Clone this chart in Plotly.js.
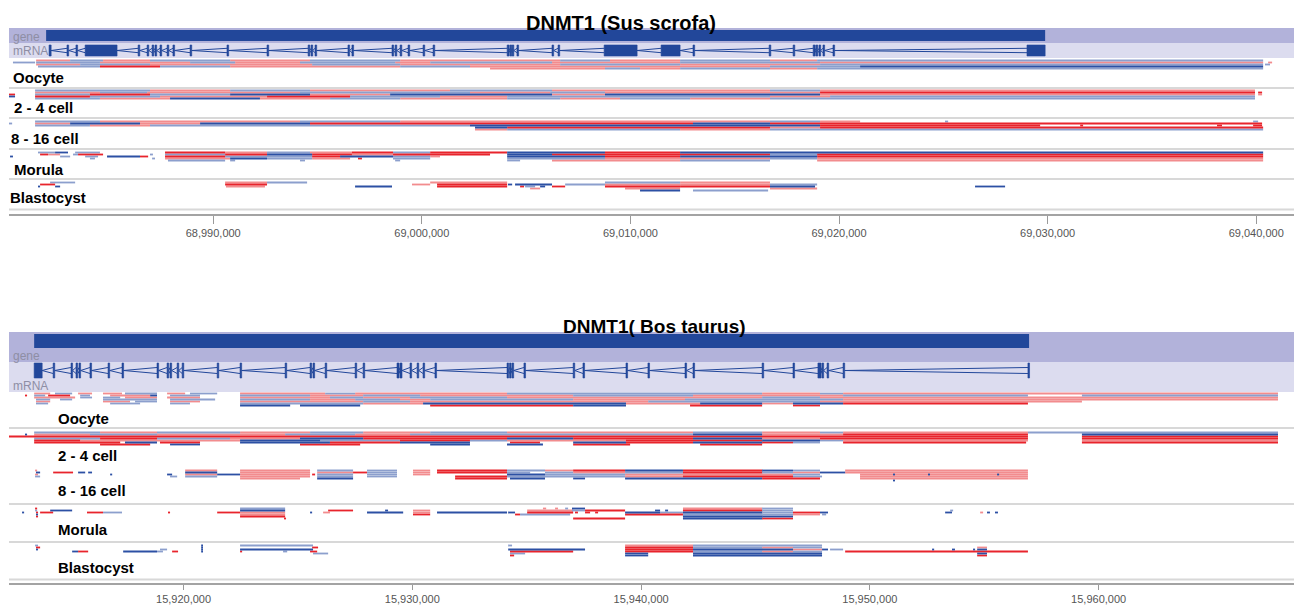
<!DOCTYPE html>
<html><head><meta charset="utf-8">
<script src="https://cdn.plot.ly/plotly-3.0.1.min.js"></script>
<style>html,body{margin:0;padding:0;background:#fff}#chart{width:1295px;height:608px}</style>
</head><body><div id="chart"></div>
<script>
// ===== DATA (genomic positions in kb) =====
const trackNames = ['Oocyte', '2 - 4 cell', '8 - 16 cell', 'Morula', 'Blastocyst'];
const panelTitles = ['DNMT1 (Sus scrofa)', 'DNMT1( Bos taurus)'];

// Sus scrofa view
const pigView = [68980.21, 69041.81];
const pigGene = [68981.99, 69029.88];
const pigExons = [[68982.13,68982.23],[68982.99,68983.07],[68983.42,68983.50],[68983.86,68985.39],[68986.40,68986.48],[68986.83,68986.91],[68987.07,68987.15],[68987.21,68987.29],[68987.45,68987.53],[68987.79,68987.87],[68988.07,68988.15],[68988.89,68988.97],[68990.66,68990.74],[68992.58,68992.66],[68994.55,68994.63],[68994.69,68994.77],[68994.88,68994.96],[68996.46,68996.54],[68996.65,68996.73],[68998.57,68998.65],[68998.72,68998.80],[68998.96,68999.04],[68999.34,68999.42],[69000.06,69000.14],[69000.54,69000.62],[69004.09,69004.19],[69004.23,69004.31],[69004.33,69004.41],[69004.56,69004.64],[69006.24,69006.32],[69006.53,69006.61],[69008.74,69010.32],[69011.47,69012.38],[69013.00,69013.08],[69016.65,69016.73],[69017.80,69017.88],[69018.76,69018.86],[69018.90,69018.98],[69019.04,69019.12],[69019.23,69019.31],[69019.71,69019.79],[69029.01,69029.88]];

// reads: [start kb, end kb, lane, colour code]
const pigOocyte = [
[68981.51,68983.14,0,'r'],[68983.14,68984.72,0,'b'],[68984.72,68986.97,0,'r'],[68986.97,68990.81,0,'b'],[68990.81,68994.64,0,'r'],[68994.64,68998.96,0,'b'],[68998.96,69006.63,0,'r'],[69006.63,69009.02,0,'b'],[69009.02,69012.38,0,'r'],[69012.38,69016.69,0,'b'],[69016.69,69018.95,0,'r'],[69018.95,69040.33,0,'b'],
[68980.40,68981.46,1,'b'],[68981.51,68984.57,1,'b'],[68984.57,68988.89,1,'r'],[68988.89,68991.05,1,'b'],[68991.05,68994.16,1,'r'],[68994.16,68998.72,1,'b'],[68998.72,69000.40,1,'r'],[69000.40,69006.24,1,'b'],[69006.24,69012.38,1,'r'],[69012.38,69019.09,1,'b'],[69019.09,69040.33,1,'r'],[69040.57,69040.76,1,'r'],
[68981.51,68983.62,2,'r'],[68983.62,68986.97,2,'b'],[68986.97,68994.74,2,'r'],[68994.74,68998.96,2,'b'],[68998.96,69006.63,2,'r'],[69006.63,69012.38,2,'b'],[69012.38,69019.09,2,'r'],[69019.09,69040.33,2,'b'],[69040.42,69040.66,2,'b'],
[68981.60,68984.57,3,'b'],[68984.57,68987.45,3,'R'],[68987.45,68990.81,3,'b'],[68990.81,68998.96,3,'r'],[68998.96,69002.31,3,'b'],[69002.31,69016.69,3,'r'],[69016.69,69021.01,3,'b'],[69021.01,69040.33,3,'B'],
[69003.27,69008.78,4,'r'],[69008.78,69010.46,4,'b'],[69010.46,69012.38,4,'r'],[69012.38,69016.69,4,'b'],[69016.69,69018.95,4,'r'],[69018.95,69040.33,4,'b']
];
const pig24 = [
[68981.46,68986.97,0,'b'],[68986.97,68990.81,0,'r'],[68990.81,68994.64,0,'b'],[68994.64,69001.35,0,'r'],[69001.35,69006.24,0,'b'],[69006.24,69016.69,0,'r'],[69016.69,69019.09,0,'b'],[69019.09,69039.94,0,'r'],
[68981.46,68984.57,1,'r'],[68984.57,68986.83,1,'b'],[68986.83,68994.16,1,'r'],[68994.16,69002.31,1,'b'],[69002.31,69006.15,1,'r'],[69006.15,69008.78,1,'b'],[69008.78,69019.09,1,'r'],[69019.09,69039.94,1,'R'],[69040.09,69040.28,1,'R'],
[68980.21,68980.50,2,'R'],[68981.46,68984.09,2,'b'],[68984.09,68986.97,2,'R'],[68986.97,68990.81,2,'b'],[68990.81,68994.64,2,'B'],[68994.64,68998.48,2,'r'],[68998.48,69006.24,2,'B'],[69006.24,69008.78,2,'r'],[69008.78,69019.09,2,'B'],[69019.09,69039.94,2,'r'],[69040.09,69040.28,2,'r'],
[68980.21,68980.50,3,'B'],[68981.46,68984.09,3,'R'],[68984.09,68987.45,3,'b'],[68987.45,68992.58,3,'r'],[68992.58,68996.56,3,'R'],[68996.56,69000.87,3,'b'],[69000.87,69004.09,3,'r'],[69004.09,69016.69,3,'b'],[69016.69,69019.57,3,'r'],[69019.57,69039.94,3,'b'],
[68981.46,68984.57,4,'b'],[68984.57,68987.93,4,'r'],[68987.93,68992.24,4,'B'],[68992.24,68995.60,4,'r'],[68995.60,68998.96,4,'b'],[68998.96,69004.09,4,'r'],[69004.09,69006.63,4,'b'],[69006.63,69009.50,4,'r'],[69009.50,69012.86,4,'b'],[69012.86,69016.69,4,'r'],[69016.69,69039.94,4,'b']
];
const pig816 = [
[68981.46,68984.57,0,'b'],[68984.57,68994.16,0,'r'],[68994.16,68998.96,0,'b'],[68998.96,69016.69,0,'r'],[69016.69,69019.09,0,'b'],[69019.09,69021.01,0,'r'],[69025.08,69025.23,0,'b'],[69039.85,69040.09,0,'b'],
[68980.21,68980.36,1,'b'],[68981.46,68983.14,1,'r'],[68983.14,68986.49,1,'B'],[68986.49,68989.37,1,'r'],[68989.37,68994.64,1,'B'],[68994.64,69013.00,1,'R'],[69013.00,69016.69,1,'B'],[69016.69,69040.28,1,'R'],
[68981.46,68984.09,2,'b'],[68984.09,68986.97,2,'r'],[68986.97,69002.31,2,'b'],[69002.31,69019.09,2,'B'],[69019.09,69029.64,2,'R'],[69031.56,69031.70,2,'R'],[69038.12,69038.36,2,'R'],[69039.85,69040.28,2,'R'],
[69002.55,69004.09,3,'B'],[69004.09,69016.69,3,'R'],[69016.69,69019.09,3,'r'],[69019.09,69040.33,3,'R'],
[69002.55,69004.09,4,'r'],[69004.09,69012.38,4,'b'],[69012.38,69016.69,4,'r'],[69016.69,69040.33,4,'b']
];
const pigMorula = [
[68980.26,68980.40,2,'B'],[68981.60,68982.42,0,'b'],[68982.42,68983.04,0,'B'],[68981.70,68982.08,1,'R'],[68982.08,68982.66,1,'r'],[68982.66,68983.14,2,'b'],[68983.28,68983.52,1,'b'],[68983.38,68984.57,0,'b'],[68983.52,68984.72,1,'R'],[68983.86,68984.48,2,'b'],[68984.09,68984.33,3,'b'],[68984.91,68986.49,2,'B'],[68986.49,68986.88,2,'R'],[68986.97,68987.11,1,'b'],[68987.07,68987.21,3,'b'],
[68987.69,68990.57,0,'R'],[68990.57,68992.58,0,'r'],[68992.58,68994.64,0,'b'],[68994.64,68996.65,0,'r'],[68996.65,68998.62,0,'R'],[68998.62,69000.40,0,'b'],[69000.40,69004.09,0,'R'],[69004.09,69008.78,0,'B'],[69008.78,69012.38,0,'R'],[69012.38,69040.33,0,'B'],
[68987.69,68990.57,1,'b'],[68990.57,68992.58,1,'R'],[68992.58,68994.74,1,'B'],[68994.74,68996.65,1,'R'],[68996.65,68998.62,1,'r'],[68998.62,69003.27,1,'R'],[69004.09,69006.24,1,'B'],[69006.24,69016.69,1,'R'],[69016.69,69018.95,1,'b'],[69018.95,69040.33,1,'R'],
[68987.69,68990.57,2,'R'],[68990.57,68994.74,2,'b'],[68994.74,68996.08,2,'R'],[68996.08,68998.62,2,'B'],[68998.62,69000.40,2,'b'],[69000.40,69000.87,2,'r'],[69004.09,69008.78,2,'B'],[69008.78,69012.38,2,'R'],[69012.38,69018.95,2,'B'],[69018.95,69040.33,2,'R'],
[68987.69,68990.81,3,'r'],[68990.81,68992.58,3,'B'],[68992.58,68994.74,3,'b'],[68994.74,68996.56,3,'r'],[68996.94,68997.13,3,'R'],[68998.62,69000.40,3,'b'],[69004.09,69008.78,3,'b'],[69008.78,69016.69,3,'r'],[69016.69,69018.95,3,'b'],[69018.95,69040.33,3,'r'],
[68987.83,68990.57,4,'b'],[68990.81,68991.05,4,'b'],[68994.16,68994.40,4,'b'],[68998.72,68998.96,4,'b'],[69004.09,69004.71,4,'b'],[69006.24,69012.38,4,'r'],[69012.38,69016.69,4,'b'],[69018.95,69040.33,4,'r']
];
const pigBlast = [
[68981.60,68981.70,2,'B'],[68981.70,68982.42,1,'R'],[68982.18,68983.38,0,'b'],[68982.42,68982.66,2,'B'],
[68990.57,68992.58,0,'r'],[68990.57,68992.58,1,'R'],[68990.61,68992.48,2,'r'],[68992.58,68994.50,0,'b'],
[68996.80,68998.57,2,'B'],[68999.53,69000.40,1,'r'],[69000.40,69004.09,0,'r'],[69000.73,69004.09,1,'R'],[69000.73,69004.09,2,'R'],
[69004.13,69004.33,1,'B'],[69004.47,69006.24,1,'B'],[69004.71,69004.90,2,'R'],[69004.95,69005.43,2,'b'],[69005.19,69005.67,3,'r'],[69005.67,69005.91,2,'B'],[69006.24,69006.87,2,'R'],[69006.87,69008.78,1,'b'],
[69008.78,69012.38,0,'b'],[69008.78,69012.38,1,'r'],[69008.78,69012.38,2,'R'],[69009.74,69012.38,3,'r'],[69010.46,69012.38,4,'B'],
[69012.38,69016.69,0,'r'],[69012.38,69016.69,1,'r'],[69012.38,69016.69,2,'R'],[69013.00,69016.60,4,'b'],
[69016.69,69018.95,1,'b'],[69016.69,69018.85,2,'B'],[69016.69,69018.95,3,'r'],[69026.52,69027.96,2,'B']
];

// Bos taurus view
const cowView = [15912.37, 15968.54];
const cowGene = [15913.47, 15956.96];
const cowExons = [[15913.47,15913.82],[15914.30,15914.37],[15915.08,15915.15],[15915.30,15915.37],[15915.43,15915.50],[15915.91,15915.98],[15916.70,15916.77],[15917.31,15917.38],[15918.84,15918.91],[15919.28,15919.35],[15919.41,15919.48],[15919.72,15919.79],[15919.94,15920.01],[15921.47,15921.54],[15922.47,15922.54],[15924.44,15924.51],[15925.53,15925.60],[15925.66,15925.73],[15926.19,15926.26],[15927.50,15927.57],[15927.85,15927.92],[15929.33,15929.42],[15929.46,15929.55],[15929.90,15929.97],[15930.21,15930.28],[15930.47,15930.54],[15930.99,15931.06],[15934.14,15934.21],[15934.25,15934.32],[15934.36,15934.43],[15934.88,15934.95],[15937.03,15937.10],[15937.46,15937.53],[15939.34,15939.41],[15940.30,15940.37],[15941.92,15941.99],[15942.27,15942.34],[15945.29,15945.36],[15946.64,15946.71],[15947.73,15947.87],[15947.91,15947.98],[15948.13,15948.20],[15948.83,15948.90],[15956.91,15956.98]];

const cowOocyte = [
[15913.47,15914.17,0,'r'],[15914.38,15915.13,0,'b'],[15915.39,15916.00,0,'r'],[15916.48,15917.31,0,'r'],[15917.44,15918.84,0,'b'],[15919.28,15920.07,0,'r'],[15920.28,15921.47,0,'b'],[15922.47,15926.19,0,'r'],[15926.19,15927.50,0,'b'],[15927.50,15934.14,0,'r'],[15934.14,15945.29,0,'b'],[15945.29,15947.82,0,'r'],[15947.82,15948.83,0,'b'],[15948.83,15967.84,0,'r'],
[15913.07,15913.16,1,'R'],[15913.47,15913.95,1,'b'],[15914.08,15915.04,1,'R'],[15915.48,15915.91,1,'b'],[15916.79,15918.54,1,'r'],[15918.54,15918.84,1,'B'],[15919.41,15920.72,1,'b'],[15922.47,15925.53,1,'b'],[15925.53,15927.85,1,'r'],[15927.85,15930.34,1,'b'],[15930.34,15937.03,1,'r'],[15937.03,15942.27,1,'b'],[15942.27,15948.83,1,'r'],[15948.83,15956.91,1,'b'],[15959.27,15967.84,1,'b'],
[15913.47,15915.26,2,'r'],[15915.48,15916.00,2,'b'],[15916.48,15917.23,2,'b'],[15917.44,15918.84,2,'r'],[15919.28,15920.72,2,'r'],[15922.47,15926.40,2,'r'],[15926.40,15927.85,2,'b'],[15927.85,15929.90,2,'r'],[15929.90,15934.14,2,'b'],[15934.14,15945.29,2,'r'],[15945.29,15947.82,2,'b'],[15947.82,15967.84,2,'r'],
[15913.55,15914.17,3,'b'],[15914.60,15915.13,3,'b'],[15916.48,15918.84,3,'b'],[15919.41,15921.38,3,'b'],[15922.47,15925.53,3,'b'],[15925.53,15927.50,3,'r'],[15927.50,15929.46,3,'b'],[15929.46,15930.78,3,'r'],[15930.78,15937.03,3,'b'],[15937.03,15941.92,3,'r'],[15941.92,15948.83,3,'b'],[15948.83,15967.84,3,'r'],
[15913.55,15914.17,4,'r'],[15916.48,15917.66,4,'r'],[15917.88,15918.84,4,'b'],[15919.41,15920.72,4,'r'],[15922.47,15927.85,4,'r'],[15927.85,15929.90,4,'b'],[15929.90,15940.31,4,'r'],[15940.31,15947.82,4,'b'],[15947.82,15959.27,4,'r'],
[15913.55,15914.08,5,'b'],[15916.79,15918.10,5,'b'],[15919.41,15920.28,5,'b'],[15922.47,15927.85,5,'b'],[15927.85,15930.47,5,'r'],[15930.47,15939.34,5,'B'],[15939.34,15942.58,5,'r'],[15942.58,15945.29,5,'B'],[15945.29,15946.64,5,'r'],[15946.64,15948.83,5,'B'],[15948.83,15956.91,5,'R'],
[15922.47,15924.66,6,'B'],[15925.09,15927.72,6,'B'],[15930.78,15937.03,6,'R'],[15937.03,15939.34,6,'B'],[15942.14,15945.29,6,'R'],[15946.64,15947.82,6,'R']
];
const cow24 = [
[15913.47,15916.35,0,'b'],[15916.35,15918.84,0,'r'],[15918.84,15922.47,0,'b'],[15922.47,15925.53,0,'r'],[15925.53,15927.85,0,'b'],[15927.85,15930.78,0,'r'],[15930.78,15934.14,0,'b'],[15934.14,15942.27,0,'r'],[15942.27,15945.29,0,'b'],[15945.29,15947.82,0,'r'],[15947.82,15948.83,0,'b'],[15948.83,15956.91,0,'r'],[15956.91,15967.84,0,'b'],
[15913.07,15913.16,1,'B'],[15913.47,15915.91,1,'r'],[15915.91,15918.84,1,'b'],[15918.84,15924.44,1,'r'],[15924.44,15927.50,1,'b'],[15927.50,15929.90,1,'r'],[15929.90,15942.27,1,'b'],[15942.27,15945.29,1,'B'],[15945.29,15948.83,1,'r'],[15948.83,15956.91,1,'R'],[15959.27,15967.84,1,'B'],
[15912.37,15956.91,2,'R'],[15959.27,15967.84,2,'R'],
[15913.47,15916.35,3,'b'],[15916.35,15918.84,3,'R'],[15918.84,15922.03,3,'b'],[15922.03,15925.09,3,'r'],[15925.09,15927.85,3,'B'],[15927.85,15934.14,3,'R'],[15934.14,15937.03,3,'B'],[15937.03,15942.27,3,'R'],[15942.27,15945.29,3,'B'],[15945.29,15947.82,3,'r'],[15947.82,15956.91,3,'R'],[15959.27,15967.84,3,'R'],
[15913.47,15915.48,4,'R'],[15915.48,15922.47,4,'r'],[15922.47,15925.97,4,'B'],[15925.97,15929.46,4,'b'],[15929.46,15932.52,4,'R'],[15932.52,15934.14,4,'b'],[15934.14,15939.34,4,'r'],[15939.34,15945.29,4,'R'],[15945.29,15947.82,4,'B'],[15947.82,15948.83,4,'b'],[15948.83,15956.91,4,'r'],[15959.27,15967.84,4,'r'],
[15913.47,15917.23,5,'R'],[15917.44,15918.84,5,'B'],[15918.97,15920.72,5,'R'],[15922.47,15926.40,5,'B'],[15926.40,15929.46,5,'R'],[15929.46,15932.52,5,'B'],[15934.27,15935.58,5,'R'],[15937.03,15939.34,5,'B'],[15939.34,15942.27,5,'R'],[15942.27,15945.29,5,'B'],[15945.29,15946.64,5,'R'],[15946.64,15947.82,5,'b'],[15948.83,15956.83,5,'R'],[15959.27,15967.84,5,'R'],
[15916.35,15918.54,6,'R'],[15919.41,15920.72,6,'B'],[15925.09,15927.72,6,'R'],[15930.78,15932.52,6,'B'],[15934.14,15935.71,6,'B'],[15937.03,15939.52,6,'R'],[15942.58,15945.29,6,'R']
];
const cow816 = [
[15913.51,15913.60,0,'r'],[15920.07,15921.47,0,'r'],[15922.47,15925.53,0,'r'],[15925.84,15927.41,0,'b'],[15928.02,15929.33,0,'b'],[15930.03,15930.78,0,'r'],[15931.08,15934.14,0,'R'],[15934.14,15935.80,0,'b'],[15935.80,15937.03,0,'r'],[15937.03,15939.30,0,'R'],[15939.30,15941.83,0,'B'],[15941.83,15945.29,0,'R'],[15945.29,15946.64,0,'B'],[15946.64,15947.82,0,'b'],[15948.92,15956.91,0,'r'],
[15913.55,15913.73,1,'B'],[15914.30,15915.17,1,'R'],[15915.39,15915.70,1,'B'],[15915.83,15916.00,1,'B'],[15920.07,15921.47,1,'B'],[15922.47,15925.53,1,'r'],[15925.84,15927.41,1,'r'],[15927.41,15928.02,1,'R'],[15928.02,15929.33,1,'b'],[15930.03,15930.78,1,'r'],[15931.08,15934.14,1,'R'],[15934.14,15935.15,1,'b'],[15935.80,15937.03,1,'b'],[15937.03,15939.30,1,'r'],[15939.30,15941.83,1,'b'],[15941.83,15945.29,1,'R'],[15945.29,15946.64,1,'b'],[15946.64,15947.82,1,'r'],[15947.82,15948.92,1,'B'],[15948.92,15956.91,1,'r'],
[15913.51,15913.64,2,'r'],[15916.79,15916.88,2,'B'],[15919.28,15919.50,2,'B'],[15920.07,15921.47,2,'r'],[15921.47,15922.47,2,'B'],[15922.47,15925.53,2,'r'],[15925.62,15925.75,2,'R'],[15925.84,15927.41,2,'b'],[15928.02,15929.33,2,'b'],[15930.03,15930.78,2,'r'],[15934.14,15935.80,2,'B'],[15935.80,15939.30,2,'b'],[15939.30,15946.64,2,'r'],[15946.64,15947.82,2,'b'],[15949.57,15956.91,2,'r'],[15951.01,15951.10,2,'B'],[15952.54,15952.63,2,'B'],[15955.56,15955.65,2,'B'],
[15913.51,15913.73,3,'b'],[15919.41,15919.72,3,'b'],[15920.07,15921.47,3,'b'],[15922.47,15925.53,3,'r'],[15925.84,15927.41,3,'b'],[15928.02,15929.33,3,'b'],[15931.87,15934.14,3,'R'],[15934.14,15939.30,3,'b'],[15939.30,15941.83,3,'r'],[15941.83,15946.64,3,'R'],[15946.64,15947.91,3,'b'],[15949.57,15956.91,3,'r'],
[15922.47,15925.09,4,'r'],[15925.84,15927.41,4,'B'],[15931.87,15934.14,4,'R'],[15934.27,15935.80,4,'B'],[15937.03,15937.55,4,'B'],[15939.30,15945.29,4,'B'],[15945.29,15947.82,4,'R'],[15949.57,15956.91,4,'r'],[15951.01,15951.10,5,'B']
];
const cowMorula = [
[15912.94,15913.03,2,'B'],[15913.51,15913.60,0,'R'],[15913.51,15913.60,1,'b'],[15913.55,15913.64,2,'R'],[15913.55,15913.64,3,'B'],[15913.55,15913.64,4,'R'],[15913.73,15914.30,2,'R'],[15914.17,15915.13,1,'B'],[15915.78,15916.48,2,'R'],[15916.48,15917.31,2,'b'],[15919.32,15919.41,2,'R'],[15921.47,15922.47,2,'R'],
[15922.47,15924.44,0,'b'],[15922.47,15924.44,1,'B'],[15922.47,15924.44,2,'r'],[15922.47,15924.44,3,'r'],[15922.47,15924.44,4,'R'],[15924.39,15924.48,5,'R'],
[15925.53,15925.62,2,'B'],[15926.10,15926.40,2,'r'],[15926.32,15927.41,1,'R'],[15928.02,15929.60,2,'B'],[15928.81,15928.94,1,'B'],[15930.03,15930.78,1,'r'],[15930.03,15930.78,2,'r'],[15930.03,15930.78,3,'R'],[15931.08,15934.14,2,'B'],
[15934.19,15934.49,2,'B'],[15934.49,15934.71,3,'R'],[15935.02,15937.03,1,'r'],[15935.02,15937.03,2,'R'],[15934.71,15936.90,3,'b'],[15935.71,15935.85,0,'r'],[15936.24,15936.37,0,'r'],[15936.68,15936.81,0,'b'],[15936.98,15937.55,0,'B'],[15936.98,15937.55,1,'b'],[15937.11,15937.24,2,'R'],[15937.55,15937.77,2,'R'],[15937.99,15938.12,2,'R'],[15937.03,15939.30,5,'R'],[15937.55,15939.30,1,'R'],
[15939.30,15940.83,2,'B'],[15940.83,15941.83,2,'b'],[15939.30,15941.83,3,'R'],[15940.61,15940.83,1,'B'],[15941.05,15941.18,1,'B'],
[15941.83,15945.29,0,'r'],[15941.83,15945.29,1,'R'],[15941.83,15945.29,2,'B'],[15941.83,15945.29,3,'b'],[15941.83,15945.29,4,'B'],[15941.83,15945.29,5,'B'],
[15945.29,15946.64,0,'b'],[15945.29,15946.64,1,'b'],[15945.29,15946.64,2,'b'],[15945.29,15946.64,3,'b'],[15945.29,15946.64,4,'B'],[15945.29,15946.64,5,'R'],
[15946.64,15947.82,2,'R'],[15946.64,15947.82,3,'r'],[15947.82,15948.17,2,'B'],[15947.91,15948.09,3,'b'],
[15953.29,15953.59,2,'B'],[15953.51,15953.64,1,'b'],[15954.82,15954.95,2,'r'],[15955.12,15955.25,2,'B'],[15955.47,15955.60,2,'B']
];
const cowBlast = [
[15913.51,15913.64,0,'b'],[15913.55,15913.73,1,'R'],[15913.55,15913.64,2,'B'],[15915.13,15915.39,3,'B'],[15915.39,15915.83,3,'R'],[15917.36,15918.84,3,'B'],[15918.84,15919.10,3,'b'],[15918.97,15919.28,2,'b'],[15919.50,15919.76,3,'R'],
[15920.77,15920.85,0,'B'],[15920.77,15920.85,1,'B'],[15920.77,15920.85,2,'B'],[15920.77,15920.85,3,'B'],
[15922.47,15925.66,0,'b'],[15922.47,15925.66,2,'B'],[15922.47,15922.56,3,'R'],[15924.35,15924.53,3,'b'],[15925.53,15925.84,3,'R'],[15925.66,15926.32,4,'b'],[15925.62,15925.88,1,'R'],
[15934.19,15934.36,0,'b'],[15934.19,15937.55,2,'B'],[15934.27,15937.03,3,'R'],[15934.27,15934.93,4,'b'],[15934.27,15934.45,5,'R'],
[15939.30,15942.27,0,'r'],[15939.30,15942.27,1,'R'],[15939.30,15942.27,2,'R'],[15939.30,15942.27,3,'R'],[15939.30,15940.31,4,'B'],[15939.30,15940.31,5,'B'],
[15942.27,15947.91,0,'b'],[15942.27,15945.29,1,'b'],[15945.29,15946.64,1,'r'],[15946.64,15947.91,1,'b'],[15942.27,15946.64,2,'B'],[15946.64,15947.91,2,'r'],[15942.27,15945.29,3,'b'],[15945.29,15946.64,3,'r'],[15946.64,15947.91,3,'b'],[15942.27,15947.91,4,'B'],[15942.27,15947.91,5,'B'],
[15947.91,15948.17,2,'B'],[15948.26,15948.83,2,'b'],[15948.92,15956.91,3,'R'],
[15952.72,15952.81,2,'B'],[15953.59,15953.72,2,'B'],[15954.51,15954.60,2,'B'],[15954.69,15955.12,1,'r'],[15954.69,15955.12,2,'B'],[15954.69,15955.12,4,'B'],[15954.69,15955.12,5,'R']
];

// ===== STYLE / LAYOUT =====
const W = 1295, H = 608;
const FONT = 'Liberation Sans, Arial, Helvetica, sans-serif';
const READ_COL = {r:'#f28c8e', b:'#8c9fcd', R:'#e8242c', B:'#2c50a4'};
const DARK = '#22479a';
const px = v => v / W, py = v => 1 - v / H;

const panels = [
  {view: pigView, gene: pigGene, exons: pigExons, tracks: [pigOocyte, pig24, pig816, pigMorula, pigBlast],
   xa: 'x', ya: 'y', laneTop: [60.5, 90.5, 121.5, 152.5, 182.5], geneY: [30, 41], exonY: [45, 56], mid: 50.5, half: 2.2},
  {view: cowView, gene: cowGene, exons: cowExons, tracks: [cowOocyte, cow24, cow816, cowMorula, cowBlast],
   xa: 'x2', ya: 'y2', laneTop: [393.5, 432.5, 470.5, 508.5, 545.5], geneY: [334, 348], exonY: [363, 378], mid: 370.5, half: 3}
];
const LANE = 2;

const traces = [];
panels.forEach(p => {
  traces.push({type: 'scatter', mode: 'lines', xaxis: p.xa, yaxis: p.ya, hoverinfo: 'skip',
    x: [p.gene[0], p.gene[1], p.gene[1], p.gene[0], p.gene[0]].map(v => v * 1000),
    y: [p.geneY[0], p.geneY[0], p.geneY[1], p.geneY[1], p.geneY[0]],
    fill: 'toself', fillcolor: DARK, line: {width: 0, color: DARK}});
  const ix = [], iy = [];
  for (let i = 0; i < p.exons.length - 1; i++) {
    const a = p.exons[i][1] * 1000, b = p.exons[i + 1][0] * 1000;
    ix.push(b, a, b, null); iy.push(p.mid - p.half, p.mid, p.mid + p.half, null);
  }
  traces.push({type: 'scatter', mode: 'lines', xaxis: p.xa, yaxis: p.ya, hoverinfo: 'skip',
    x: ix, y: iy, line: {color: DARK, width: 1}});
  const ex = [], ey = [];
  p.exons.forEach(e => {
    const s = e[0] * 1000, t = e[1] * 1000;
    ex.push(s, t, t, s, s, null); ey.push(p.exonY[0], p.exonY[0], p.exonY[1], p.exonY[1], p.exonY[0], null);
  });
  traces.push({type: 'scatter', mode: 'lines', xaxis: p.xa, yaxis: p.ya, hoverinfo: 'skip',
    x: ex, y: ey, fill: 'toself', fillcolor: DARK, line: {width: 0.6, color: DARK}});
  ['r', 'b', 'R', 'B'].forEach(c => {
    const rx = [], ry = [];
    p.tracks.forEach((tr, ti) => {
      tr.forEach(rd => {
        if (rd[3] !== c) return;
        const y = p.laneTop[ti] + rd[2] * LANE;
        rx.push(rd[0] * 1000, rd[1] * 1000, null); ry.push(y, y, null);
      });
    });
    traces.push({type: 'scatter', mode: 'lines', xaxis: p.xa, yaxis: p.ya, hoverinfo: 'skip',
      x: rx, y: ry, line: {color: READ_COL[c], width: 1.8}});
  });
});

const shapes = [];
const band = (y0, y1, col) => shapes.push({type: 'rect', xref: 'paper', yref: 'paper', layer: 'below',
  x0: px(9), x1: px(1294), y0: py(y1), y1: py(y0), fillcolor: col, line: {width: 0}});
band(28, 43, '#b2b2da'); band(43, 58, '#dcdcef');
band(332, 362, '#b2b2da'); band(362, 392, '#dcdcef');
[88, 118, 149, 179, 209.5, 428, 504, 542, 579.5].forEach(y => shapes.push({type: 'line', xref: 'paper', yref: 'paper', layer: 'below',
  x0: px(9), x1: px(1294), y0: py(y), y1: py(y), line: {color: '#d8d8d8', width: 2}}));

const annotations = [];
const ann = (text, x, y, size, color, anchor, bold) => annotations.push({xref: 'paper', yref: 'paper', x: px(x), y: py(y),
  xanchor: anchor, yanchor: 'middle', showarrow: false, text: bold ? '<b>' + text + '</b>' : text,
  font: {family: FONT, size: size, color: color}});
ann(panelTitles[0], 621, 23, 20, '#000', 'center', true);
ann(panelTitles[1], 654, 326, 19, '#000', 'center', true);
ann('gene', 11, 37, 12, '#8e8ea4', 'left', false);
ann('mRNA', 11, 51, 12, '#8e8ea4', 'left', false);
ann('gene', 11, 356, 12, '#8e8ea4', 'left', false);
ann('mRNA', 11, 386, 12, '#8e8ea4', 'left', false);
const topLabelX = [11, 12, 9, 12, 8], topLabelY = [77, 108, 138, 170, 197];
const botLabelY = [418, 455, 490, 529, 567];
trackNames.forEach((n, i) => {
  ann(n, topLabelX[i], topLabelY[i], 15, '#000', 'left', true);
  ann(n, 56, botLabelY[i], 15, '#000', 'left', true);
});

const xCommon = {domain: [px(9), px(1294)], showgrid: false, zeroline: false, showline: true, linecolor: '#a3a3a3', linewidth: 2,
  ticks: 'outside', tickwidth: 1, tickcolor: '#9a9a9a', tickformat: ',d', dtick: 10000,
  tickfont: {family: FONT, size: 11, color: '#555'}, ticklabelstandoff: 0, fixedrange: true};
const layout = {
  width: W, height: H, margin: {l: 0, r: 0, t: 0, b: 0}, paper_bgcolor: '#fff', plot_bgcolor: 'rgba(0,0,0,0)',
  showlegend: false, hovermode: false,
  xaxis: Object.assign({}, xCommon, {anchor: 'y', range: pigView.map(v => v * 1000), tick0: 68990000, ticklen: 8}),
  yaxis: {anchor: 'x', domain: [py(214), py(28)], range: [214, 28], visible: false, fixedrange: true},
  xaxis2: Object.assign({}, xCommon, {anchor: 'y2', range: cowView.map(v => v * 1000), tick0: 15920000, ticklen: 5}),
  yaxis2: {anchor: 'x2', domain: [py(583), py(320)], range: [583, 320], visible: false, fixedrange: true},
  shapes: shapes, annotations: annotations
};
Plotly.newPlot('chart', traces, layout, {displayModeBar: false, staticPlot: true});
</script>
</body></html>
